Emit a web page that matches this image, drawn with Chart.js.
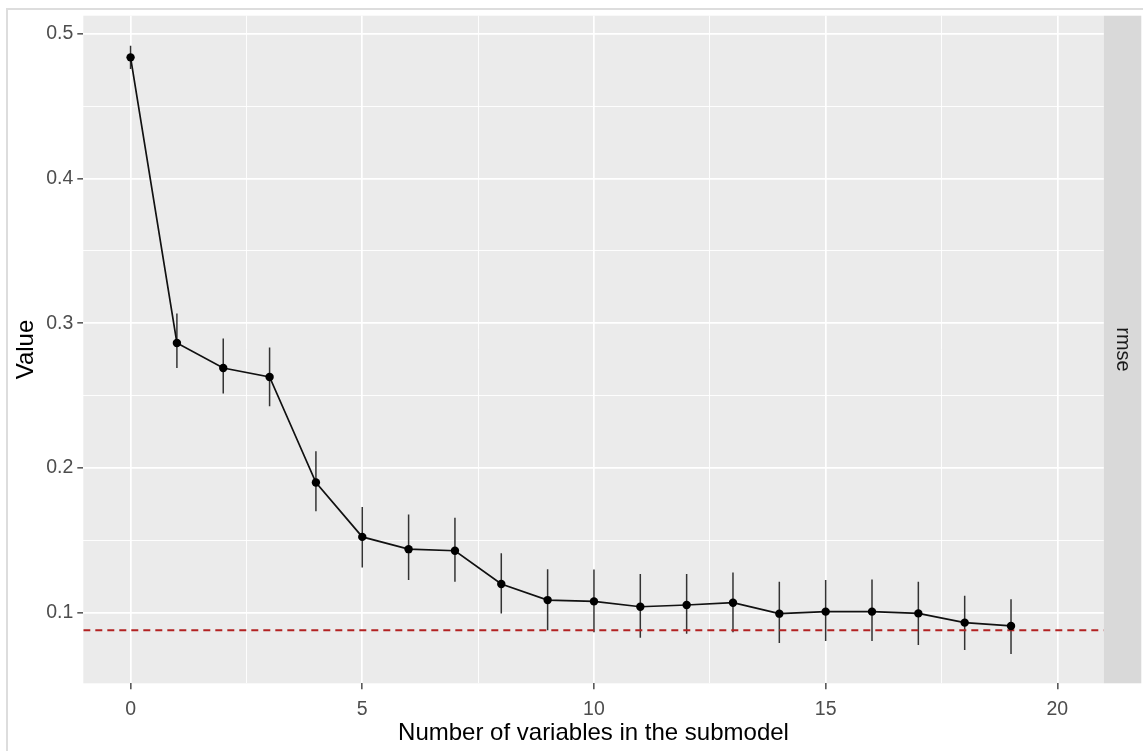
<!DOCTYPE html>
<html>
<head>
<meta charset="utf-8">
<script src="https://cdn.jsdelivr.net/npm/chart.js@4.4.1/dist/chart.umd.min.js"></script>
<style>
  html, body { margin: 0; padding: 0; background: #fff; }
  #wrap { position: relative; width: 1143px; height: 751px; overflow: hidden; }
  #frame { position: absolute; left: 6px; top: 8px; width: 1150px; height: 760px; border: 2px solid #dddddd; box-sizing: border-box; }
  #chart { position: absolute; left: 0; top: 0; }
</style>
</head>
<body>
<div id="wrap">
  <div id="frame"></div>
  <canvas id="chart" width="1143" height="751"></canvas>
</div>
<script>
// submodel size vs rmse (with error bars)
const nVars = [0, 1, 2, 3, 4, 5, 6, 7, 8, 9, 10, 11, 12, 13, 14, 15, 16, 17, 18, 19];
const rmse = [0.4838, 0.2863, 0.2690, 0.2628, 0.1898, 0.1522, 0.1437, 0.1426, 0.1196, 0.1085,
  0.1076, 0.1039, 0.1051, 0.1067, 0.0991, 0.1005, 0.1005, 0.0993, 0.0929, 0.0906];
const rmseLower = [0.4757, 0.2690, 0.2513, 0.2425, 0.1699, 0.1311, 0.1223, 0.1212, 0.0993, 0.0877,
  0.0862, 0.0825, 0.0853, 0.0862, 0.0788, 0.0802, 0.0802, 0.0775, 0.0740, 0.0712];
const rmseUpper = [0.4919, 0.3066, 0.2893, 0.2831, 0.2114, 0.1729, 0.1677, 0.1654, 0.1408, 0.1299,
  0.1297, 0.1265, 0.1265, 0.1276, 0.1212, 0.1223, 0.1228, 0.1212, 0.1115, 0.1090];
const refLine = 0.0877;
const xTicks = [0, 5, 10, 15, 20];
const xMinor = [2.5, 7.5, 12.5, 17.5];
const yTicks = [0.1, 0.2, 0.3, 0.4, 0.5];
const yMinor = [0.15, 0.25, 0.35, 0.45];
const stripLabel = 'rmse';

const FONT = '"Liberation Sans", Arial, sans-serif';

// panel background + facet strip
const panelPlugin = {
  id: 'panel',
  beforeDraw(chart) {
    const { ctx, chartArea: a } = chart;
    ctx.save();
    ctx.fillStyle = '#ebebeb';
    ctx.fillRect(a.left, a.top, a.right - a.left, a.bottom - a.top);
    ctx.fillStyle = '#d9d9d9';
    ctx.fillRect(a.right, a.top, 37.6, a.bottom - a.top);
    ctx.translate(a.right + 18.8, (a.top + a.bottom) / 2);
    ctx.rotate(Math.PI / 2);
    ctx.fillStyle = '#1a1a1a';
    ctx.font = '20px ' + FONT;
    ctx.textAlign = 'center';
    ctx.textBaseline = 'middle';
    ctx.fillText(stripLabel, 0, 0);
    ctx.restore();
  }
};

// vertical error bars
const errorBarPlugin = {
  id: 'errorBars',
  beforeDatasetsDraw(chart) {
    const { ctx, chartArea: a, scales: { x, y } } = chart;
    ctx.save();
    ctx.beginPath();
    ctx.rect(a.left, a.top, a.right - a.left, a.bottom - a.top);
    ctx.clip();
    ctx.strokeStyle = '#333333';
    ctx.lineWidth = 1.5;
    for (let i = 0; i < nVars.length; i++) {
      const px = x.getPixelForValue(nVars[i]);
      ctx.beginPath();
      ctx.moveTo(px, y.getPixelForValue(rmseLower[i]));
      ctx.lineTo(px, y.getPixelForValue(rmseUpper[i]));
      ctx.stroke();
    }
    ctx.restore();
  }
};

function gridScale(major, minor, min, max, fmt, fixedSize, horiz) {
  return {
    type: 'linear',
    min: min,
    max: max,
    afterBuildTicks(scale) {
      scale.ticks = major.concat(minor).sort((a, b) => a - b).map(v => ({ value: v }));
    },
    afterFit(scale) {
      if (horiz) scale.height = fixedSize; else scale.width = fixedSize;
    },
    border: { display: false },
    grid: {
      drawOnChartArea: true,
      color: '#ffffff',
      lineWidth: c => (c.tick && major.includes(c.tick.value)) ? 1.7 : 0.9,
      tickColor: c => (c.tick && major.includes(c.tick.value)) ? '#333333' : 'rgba(0,0,0,0)',
      tickLength: 6,
      tickWidth: 1.3
    },
    ticks: {
      autoSkip: false,
      maxRotation: 0,
      minRotation: 0,
      padding: horiz ? 9 : 4,
      color: '#4d4d4d',
      font: { family: FONT, size: 19.5 },
      callback: v => major.includes(v) ? fmt(v) : ''
    }
  };
}

const xScale = gridScale(xTicks, xMinor, -1.02, 21, v => String(v), 67.7, true);
xScale.title = {
  display: true,
  text: 'Number of variables in the submodel',
  color: '#000000',
  font: { family: FONT, size: 24 },
  padding: { top: 0, bottom: 3 }
};
const yScale = gridScale(yTicks, yMinor, 0.05095, 0.5126, v => v.toFixed(1), 83.3, false);
yScale.title = {
  display: true,
  text: 'Value',
  color: '#000000',
  font: { family: FONT, size: 24 },
  padding: { top: 12, bottom: 0 }
};

new Chart(document.getElementById('chart'), {
  type: 'scatter',
  data: {
    datasets: [
      {
        label: 'rmse',
        data: nVars.map((v, i) => ({ x: v, y: rmse[i] })),
        showLine: true,
        borderColor: '#111111',
        borderWidth: 1.7,
        pointRadius: 4.2,
        pointBackgroundColor: '#000000',
        pointBorderColor: '#000000',
        pointBorderWidth: 0,
        order: 1
      },
      {
        label: 'reference',
        data: [{ x: -1.02, y: refLine }, { x: 21, y: refLine }],
        showLine: true,
        borderColor: '#b22222',
        borderWidth: 2,
        borderDash: [7, 5],
        pointRadius: 0,
        order: 2
      }
    ]
  },
  options: {
    responsive: false,
    animation: false,
    devicePixelRatio: 1,
    layout: { padding: { left: 0, top: 15, right: 39.3, bottom: 0 } },
    plugins: { legend: { display: false }, tooltip: { enabled: false } },
    scales: { x: xScale, y: yScale }
  },
  plugins: [panelPlugin, errorBarPlugin]
});
</script>
</body>
</html>
